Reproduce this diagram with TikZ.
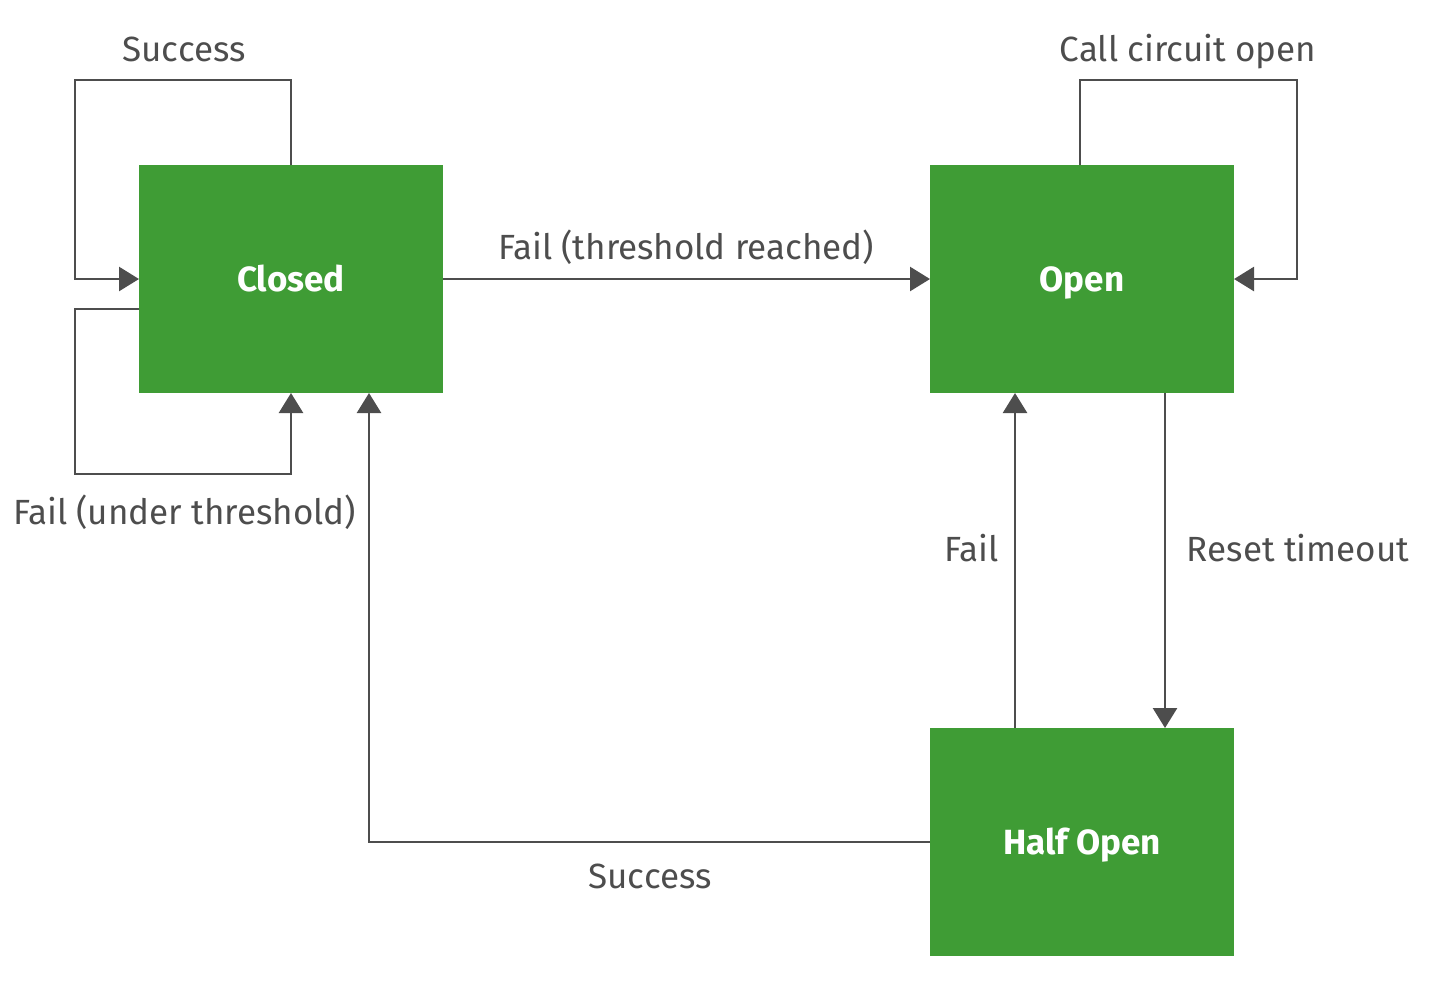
\documentclass[tikz,border=0pt]{standalone}
\usepackage{fontspec}
\setmainfont{Fira Sans}
\usetikzlibrary{arrows.meta}
\definecolor{boxgreen}{HTML}{3F9C35}
\definecolor{linegray}{HTML}{4D4D4D}
\begin{document}
\begin{tikzpicture}[x=0.5pt,y=-0.5pt,
  state/.style={fill=boxgreen, draw=none, minimum width=152pt, minimum height=114pt,
    inner sep=0pt, outer sep=0pt, text=white, font=\fontsize{17.5}{20}\selectfont\bfseries,
    text height=12pt, text depth=0pt},
  conn/.style={draw=linegray, line width=1.3pt, -{Triangle[width=12pt,length=10pt]}},
  lbl/.style={text=linegray, font=\fontsize{17.5}{20}\selectfont, anchor=base, inner sep=0pt}]
\useasboundingbox (0,0) rectangle (1438,993);
\node[state] (closed) at (291,279) {Closed};
\node[state] (open) at (1082,279) {Open};
\node[state] (half) at (1082,842) {Half Open};

\draw[conn] (closed.north) |- (75,80) |- (closed.west);
\draw[conn] (closed.west |- 0,309) -| (75,474) -| (closed.south);
\draw[conn] (closed.east) -- (open.west);
\draw[conn] (open.north -| 1080,0) |- (1297,80) |- (open.east);
\draw[conn] (open.south -| 1165,0) -- (half.north -| 1165,0);
\draw[conn] (half.north -| 1015,0) -- (open.south -| 1015,0);
\draw[conn] (half.west) -| (closed.south -| 369,0);

\node[lbl] (l1) at (184,61) {Success};
\node[lbl] (l2) at (1188,61) {Call circuit open};
\node[lbl] (l3) at (686,259) {Fail (threshold reached)};
\node[lbl] (l4) at (184.5,524) {Fail (under threshold)};
\node[lbl] (l5) at (971.5,561) {Fail};
\node[lbl] (l6) at (1298,561) {Reset timeout};
\node[lbl] (l7) at (650,888) {Success};
\end{tikzpicture}
\end{document}
